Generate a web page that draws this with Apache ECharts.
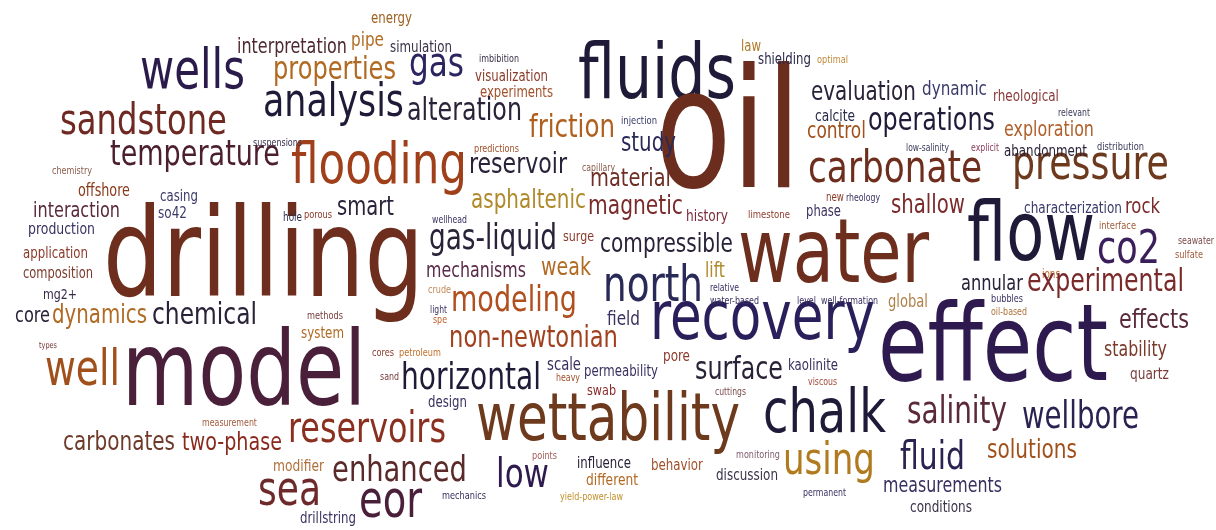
<!DOCTYPE html>
<html><head><meta charset="utf-8">
<style>html,body{margin:0;padding:0;background:#fff}#c{width:1216px;height:530px}</style>
<script src="https://cdn.jsdelivr.net/npm/echarts@6/dist/echarts.min.js"></script>
</head><body><div id="c"></div>
<script>
const words = ["fluids","oil","drilling","water","effect","model","wettability","recovery","flow","chalk",
"flooding","carbonate","pressure","sandstone","temperature","wells","analysis","gas","properties","interpretation",
"energy","pipe","simulation","imbibition","visualization","experiments","alteration","friction","predictions","reservoir",
"capillary","law","shielding","optimal","evaluation","dynamic","rheological","calcite","control","operations",
"relevant","exploration","low-salinity","explicit","abandonment","distribution","injection","study","material","suspensions",
"chemistry","offshore","casing","interaction","so42","production","hole","application","composition","mg2+",
"core","dynamics","chemical","types","porous","smart","asphaltenic","wellhead","gas-liquid","surge",
"magnetic","compressible","mechanisms","weak","crude","light","spe","modeling","methods","system",
"non-newtonian","cores","petroleum","new","rheology","history","limestone","phase","shallow","lift",
"relative","water-based","level","well-formation","global","north","field","co2","characterization","rock",
"interface","seawater","sulfate","ions","annular","experimental","bubbles","oil-based","effects","stability",
"well","measurement","carbonates","two-phase","modifier","sea","drillstring","sand","horizontal","scale",
"heavy","permeability","swab","design","reservoirs","enhanced","eor","low","points","mechanics",
"influence","different","yield-power-law","pore","surface","kaolinite","viscous","cuttings","behavior","monitoring",
"discussion","using","permanent","salinity","fluid","measurements","conditions","quartz","wellbore","solutions"];

const posX = [657,728,263.5,833.5,993,244,608,762.5,1031,824.5,
379,895,1090.5,143.5,195,192.5,333.5,436.5,334.5,292,
391.5,367.5,421,499,511.5,516.5,464.5,572,496.5,518,
598.5,751,784.5,832.5,863.5,954.5,1026,835,836.5,931.5,
1074,1049,927.5,985,1045.5,1120.5,639,648.5,630.5,277.5,
72,104,179,76.5,172.5,61.5,292.5,55.5,58,60,
32.5,99.5,204.5,48,318,365.5,528.5,449.5,493,578.5,
635.5,666.5,476,566,439.5,438.5,440,514,325,322.5,
533.5,383,420,835,863,707,769,823.5,928,715,
724.5,734.5,806.5,849.5,908,653,623.5,1128.5,1073,1142.5,
1117.5,1196,1189,1051,992,1105.5,1007,1009,1154,1135.5,
82.5,229.5,119,232,298.5,289.5,328,389.5,471,564,
568,621,601.5,447.5,367,399.5,390.5,522.5,544.5,464,
604,612,591.5,676.5,739,813,822.5,730.5,677,758,
747,829,824.5,957,932.5,942.5,941,1149.5,1080.5,1032];

const posY = [105,201,307,290,389,414,446,345,267,437,
188,186,183,138,168,93,120,80,82,55,
24,48,53,63,82,98,123,140,153,176,
172,52,65,64,102,97,102,122,140,133,
117,138,152,152,157,151,125,153,188,147,
175,197,202,219,219,235,222,259,279,300,
324,325,327,349,219,217,210,224,252,242,
216,254,279,277,294,314,324,314,320,339,
350,357,357,202,202,222,219,217,215,279,
292,305,305,305,309,305,327,267,214,215,
230,245,259,279,292,294,303,316,330,358,
389,427,452,452,472,509,524,381,392,372,
382,377,396,408,446,484,521,491,460,500,
469,486,501,362,382,371,386,396,471,459,
481,478,497,426,472,494,513,380,431,460];

const sizes = [158,146,321,191,230,244,264,225,128,123,
176,174,157,167,170,105,141,55,123,110,
41,33,62,40,73,73,115,86,45,98,
33,20,53,31,105,65,66,40,59,127,
32,90,43,28,83,47,36,55,81,49,
40,52,38,87,29,67,19,65,70,34,
35,95,105,18,28,57,115,35,128,31,
95,133,100,50,23,17,14,126,36,43,
169,22,42,18,34,42,42,35,74,20,
29,49,19,57,40,100,33,63,98,35,
37,36,28,18,62,157,32,36,70,63,
75,55,112,100,51,63,56,19,140,34,
24,74,29,39,158,135,63,53,25,44,
54,52,63,27,88,50,29,31,52,44,
62,92,43,100,65,119,62,39,117,90];

const tones = ["#1e1a38","#6b2d1e","#6e2e1e","#6e2e1e","#2e1a4e","#4a1f3a","#6e3a1e","#2a1f5a","#1e1a38","#1e1a38",
"#a0401a","#6e2e1e","#6e3a1e","#6e2a22","#4b1f2f","#2b1b4b","#1e1a38","#2b2560","#b06a22","#4e2a2e",
"#a06020","#b06a22","#3a3048","#3a3048","#8a3a2a","#a0502a","#2a2238","#b0601e","#a0502a","#2a2238",
"#8a5a4a","#b07a2a","#2a2a4a","#c08a3a","#2a2238","#3a3a6a","#8a3a3a","#2a2a4a","#a0501a","#1e1a38",
"#3a3a5a","#b0602a","#3a3a5a","#8a3a5a","#2a2238","#3a3a5a","#3a3a6a","#2a2a58","#6e2e25","#3a3050",
"#8a5a4a","#8a3a1a","#3a3a6a","#5a2a3a","#3a3a6a","#3a3060","#2a2a4a","#8a3a2a","#7a3a2a","#3a2a4a",
"#2a2238","#b06a22","#2a2238","#7a3a3a","#8a3a2a","#2a2238","#b08a2a","#3a3060","#2a2238","#8a3a2a",
"#7a2a2a","#2a2238","#5a2a4a","#b06a22","#c08a5a","#3a3060","#c0602a","#b0501e","#7a3a3a","#b06a22",
"#a0401e","#8a3a2a","#c0702a","#8a3a2a","#3a3060","#7a2a3a","#8a3a2a","#3a3060","#7a2a2a","#b08a2a",
"#3a3060","#3a3060","#3a3060","#3a3060","#b0804a","#2a2a58","#3a3060","#3a1f5a","#3a3a6a","#7a2a2a",
"#a05a3a","#7a4a4a","#a05a3a","#c06a2a","#2a2238","#7a2a2a","#3a3060","#b0703a","#5a2a3a","#7a3a2a",
"#a0501a","#a05a3a","#6e3a2a","#8a2a1e","#b0703a","#6e2a2a","#3a3060","#7a3a3a","#1e1a38","#3a3060",
"#a0502a","#3a3060","#8a2a2a","#3a3060","#8a3020","#5a2a2a","#4a1f3a","#2e1a4e","#a05a5a","#3a3060",
"#2a2238","#b06a22","#c0902a","#8a3a2a","#2a2238","#3a3060","#a04a3a","#7a4a4a","#a0502a","#7a5a6a",
"#3a3048","#b07a1e","#3a3060","#5a2a3a","#2a2250","#3a3060","#3a3048","#7a3a3a","#2a2250","#a0501a"];

const ctx = document.createElement('canvas').getContext('2d');
function hasFont(name){
  ctx.font = '40px monospace'; const a = ctx.measureText('abcdefwwwiiilmn').width;
  ctx.font = '40px "' + name + '", monospace'; return ctx.measureText('abcdefwwwiiilmn').width !== a;
}
let FONT = 'sans-serif';
if (hasFont('Liberation Sans Narrow')) FONT = '"Liberation Sans Narrow"';
else if (hasFont('DejaVu Sans Condensed')) FONT = '"DejaVu Sans Condensed"';
ctx.font = '100px ' + FONT;
const alphaW = ctx.measureText('abcdefghijklmnopqrstuvwxyz').width;
const SY = 0.94 * alphaW / 1043;

const chart = echarts.init(document.getElementById('c'), null, {renderer: 'canvas'});
const data = words.map((w, i) => [posX[i], posY[i], sizes[i]]);
chart.setOption({
  animation: false,
  backgroundColor: '#ffffff',
  grid: {left: 0, right: 0, top: 0, bottom: 0},
  xAxis: {type: 'value', min: 0, max: 1216, show: false},
  yAxis: {type: 'value', min: 0, max: 530, inverse: true, show: false},
  series: [{
    type: 'custom', coordinateSystem: 'cartesian2d', clip: false, data: data,
    renderItem: function (params, api) {
      const i = params.dataIndex;
      const p = api.coord([api.value(0), api.value(1)]);
      const wpx = api.size([api.value(2), 0])[0];
      ctx.font = '100px ' + FONT;
      const fs = 100 * wpx / ctx.measureText(words[i]).width;
      return {
        type: 'text', x: p[0], y: p[1], scaleY: SY,
        style: {text: words[i], x: 0, y: -0.3465 * fs, fontSize: fs, fontFamily: FONT,
                fill: tones[i], align: 'center', verticalAlign: 'middle'}
      };
    }
  }]
});
</script></body></html>
